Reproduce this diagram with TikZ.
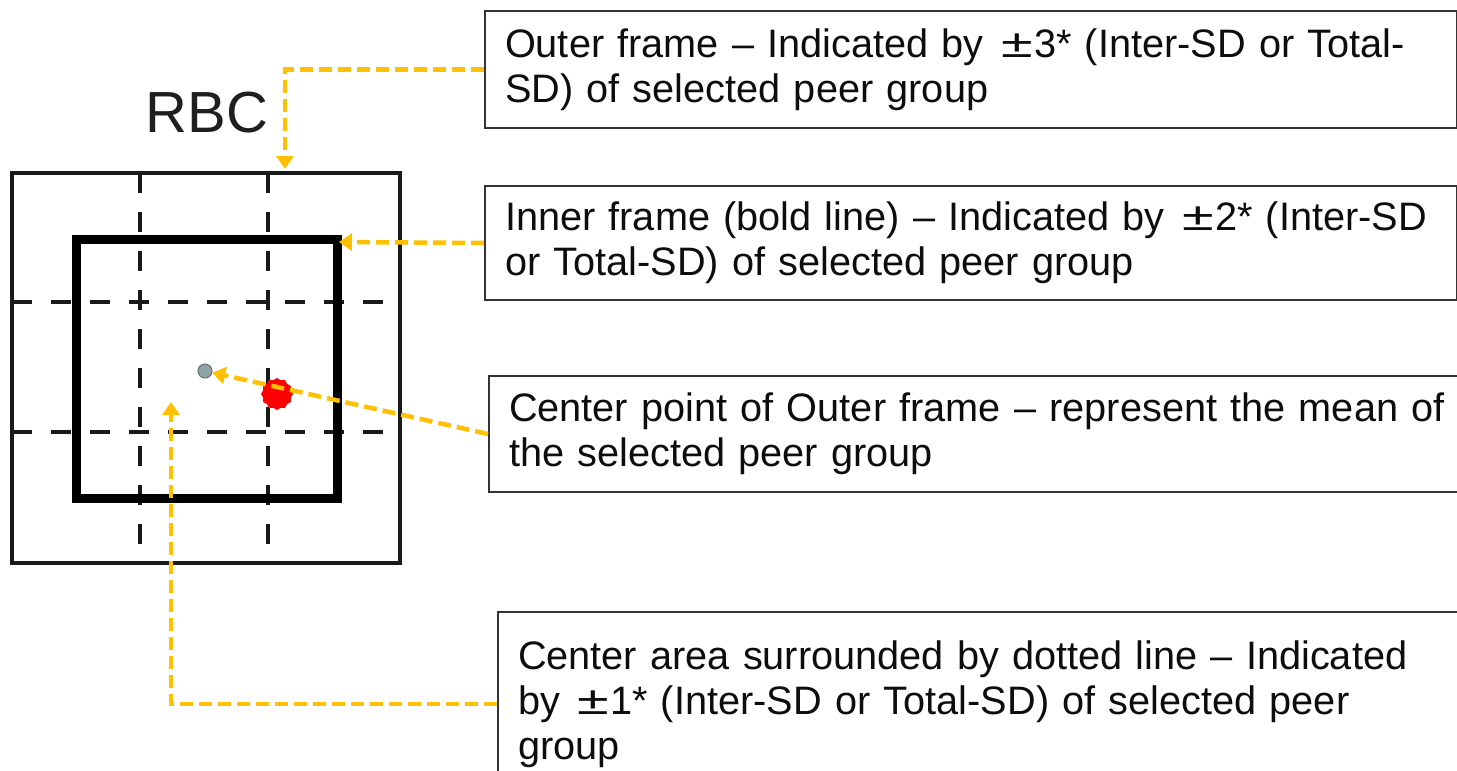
\documentclass[tikz,border=0pt]{standalone}
\usepackage{fontspec}
\setmainfont{Liberation Sans}
\usetikzlibrary{arrows.meta,shapes.geometric}
\definecolor{amber}{HTML}{FFC000}
\definecolor{pointgray}{HTML}{8FA2A6}
\newcommand{\wpm}{\kern4pt\scalebox{1.45}[1.0]{±}\kern1.5pt}
\begin{document}
\begin{tikzpicture}[x=1pt,y=-1pt,
  frameline/.style={draw=black!90, line width=3.5pt},
  gridline/.style={draw=black!90, line width=3.3pt, dash pattern=on 20pt off 19pt},
  boldframe/.style={draw=black, line width=9pt},
  legend/.style={draw=black!80, line width=2pt, anchor=north west, align=left,
    inner xsep=20pt, inner ysep=0pt, font=\fontsize{39.7}{45}\selectfont, text=black!95},
  leader/.style={draw=amber, line width=4.5pt, dash pattern=on 13pt off 6pt,
    -{Triangle[length=13pt,width=17pt]}},
]
\useasboundingbox (0,0) rectangle (1457,771);
\clip (0,0) rectangle (1457,771);

% chart
\draw[gridline] (140,173) -- (140,563);
\draw[gridline] (268,173) -- (268,563);
\draw[gridline] (12,302) -- (400,302);
\draw[gridline] (12,432) -- (400,432);
\draw[boldframe] (76,239) rectangle (337,498);
\draw[frameline] (12,173) rectangle (400,563);

\node[font=\fontsize{58}{60}\selectfont, text=black!88] (rbc) at (207,113) {RBC};

\node[circle, fill=pointgray, draw=pointgray!70!black, line width=1pt,
  minimum size=14pt, inner sep=0pt] (gp) at (205,371) {};
\node[star, star points=12, star point ratio=1.12, fill=red, minimum size=32pt,
  inner sep=0pt] (rp) at (277,394) {};

% legend boxes
\node[legend, minimum width=972pt, minimum height=117pt, text width=932pt] (b1) at (484,10)
  {Outer frame – Indicated by \wpm 3* (Inter-SD or Total-\\SD) of selected peer group};
\node[legend, minimum width=972pt, minimum height=114pt, text width=932pt] (b2) at (484,185)
  {Inner frame (bold line) – Indicated by \wpm 2* (Inter-SD\\or Total-SD) of selected peer group};
\node[legend, minimum width=1000pt, minimum height=116pt, text width=960pt] (b3) at (488,375)
  {Center point of Outer frame – represent the mean of\\the selected peer group};
\node[legend, minimum width=1000pt, minimum height=184pt, text width=960pt] (b4) at (497,611)
  {Center area surrounded by dotted line – Indicated\\by \wpm 1* (Inter-SD or Total-SD) of selected peer\\group};

% leaders
\coordinate (t1) at (285,169);
\coordinate (t2) at (339,242);
\coordinate (t4) at (171,402);
\draw[leader] (b1.west) -| (t1);
\draw[leader] (b2.west) -- (t2);
\draw[leader] (b3.west) -- (gp);
\draw[leader] (b4.west) -| (t4);
\end{tikzpicture}
\end{document}
